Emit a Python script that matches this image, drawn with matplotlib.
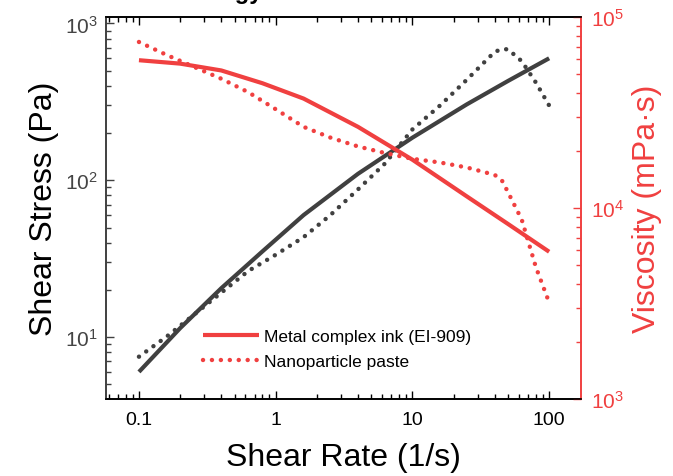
import matplotlib
matplotlib.use("Agg")
import matplotlib.pyplot as plt
from matplotlib.ticker import LogLocator, NullFormatter

plt.rcParams['font.family'] = ['Liberation Sans', 'DejaVu Sans']
plt.rcParams['mathtext.fontset'] = 'custom'
plt.rcParams['mathtext.rm'] = 'Liberation Sans'
plt.rcParams['mathtext.default'] = 'regular'

# ---- data ----
rate_ink = [0.1, 0.2, 0.4, 0.8, 1.6, 4, 10, 25, 50, 100]
stress_ink = [6.0, 11.4, 20.5, 35.2, 60, 110, 187, 305, 430, 600]
visc_ink = [59400, 57000, 52500, 45000, 37400, 26600, 17900, 11500, 8250, 5900]

rate_paste = [0.1, 0.16, 0.25, 0.4, 0.63, 1.0, 1.6, 2.5, 4, 6.3, 10, 16, 25, 40, 45, 50, 63, 80, 100]
stress_paste = [7.5, 10.1, 13.8, 19.2, 26.4, 33.5, 43.4, 59.8, 87.5, 128, 211, 301, 438, 660, 685, 685, 575, 420, 300]
visc_paste = [74000, 63200, 55000, 47500, 40400, 32900, 26600, 23400, 21000, 19400, 18100, 17300, 16300, 14900, 14000, 12100, 8700, 4900, 3200]

legend_labels = ["Metal complex ink (EI-909)", "Nanoparticle paste"]
title_text = "Rheology"

black = '#404040'
red = '#F04040'
dot = (0, (0.01, 2.0))

fig = plt.figure(figsize=(6.73, 4.77), dpi=100)
W, H = 673, 477
left, right, top, bottom = 106, 581, 18, 400
ax = fig.add_axes([left / W, 1 - bottom / H, (right - left) / W, (bottom - top) / H])
ax2 = ax.twinx()

ax.plot(rate_ink, stress_ink, color=black, lw=3, solid_capstyle='butt')
ax.plot(rate_paste, stress_paste, color=black, lw=3.2, linestyle=dot, dash_capstyle='round')
l1, = ax2.plot(rate_ink, visc_ink, color=red, lw=3, solid_capstyle='butt')
l2, = ax2.plot(rate_paste, visc_paste, color=red, lw=3.2, linestyle=dot, dash_capstyle='round')

ax.set_xscale('log')
ax.set_yscale('log')
ax2.set_yscale('log')
ax.set_xlim(0.0574, 171)
ax.set_ylim(4.03, 1100)
ax2.set_ylim(1e3, 1e5)

ax.set_xticks([0.1, 1, 10, 100])
ax.set_xticklabels(['0.1', '1', '10', '100'])
ax.xaxis.set_minor_locator(LogLocator(base=10, subs=range(2, 10)))
ax.xaxis.set_minor_formatter(NullFormatter())
ax.set_yticks([10, 100, 1000])
ax.set_yticklabels(['$10^1$', '$10^2$', '$10^3$'])
ax.yaxis.set_minor_locator(LogLocator(base=10, subs=range(2, 10)))
ax.yaxis.set_minor_formatter(NullFormatter())
ax2.set_yticks([1e3, 1e4, 1e5])
ax2.set_yticklabels(['$10^3$', '$10^4$', '$10^5$'])
ax2.yaxis.set_minor_locator(LogLocator(base=10, subs=range(2, 10)))
ax2.yaxis.set_minor_formatter(NullFormatter())

ax.tick_params(axis='x', which='both', direction='in', top=True, bottom=True, colors='black',
               labelsize=14, pad=9)
ax.tick_params(axis='x', which='major', length=6, width=1)
ax.tick_params(axis='x', which='minor', length=3.5, width=1)
ax.tick_params(axis='y', which='both', direction='in', left=True, right=False, color=black,
               labelcolor='#444444', labelsize=15, pad=6)
ax.tick_params(axis='y', which='major', length=6, width=1)
ax.tick_params(axis='y', which='minor', length=3.5, width=1)
ax2.tick_params(axis='y', which='both', direction='in', right=True, left=False, color=red,
                labelcolor=red, labelsize=15, pad=7)
ax2.tick_params(axis='y', which='major', length=6, width=1)
ax2.tick_params(axis='y', which='minor', length=3.5, width=1)

for a in (ax, ax2):
    a.spines['top'].set_color('black')
    a.spines['bottom'].set_color('black')
    a.spines['left'].set_color(black)
    a.spines['right'].set_color(red)
    for s in a.spines.values():
        s.set_linewidth(1.2)

ax.set_xlabel('Shear Rate (1/s)', fontsize=23, labelpad=10)
ax.set_ylabel('Shear Stress (Pa)', fontsize=23, labelpad=4)
ax2.set_ylabel('Viscosity (mPa·s)', fontsize=23, color=red, labelpad=6)

leg = ax.legend([l1, l2], legend_labels, loc='lower left', bbox_to_anchor=(0.19, 0.06),
                frameon=False, fontsize=12.5, handlelength=3.2, handletextpad=0.3,
                labelspacing=0.55, borderaxespad=0)

fig.text(263 / W, 1 + 0.5 / H, title_text, ha='right', va='baseline', fontsize=17,
         fontweight='bold')

fig.savefig('out.png', dpi=100)
